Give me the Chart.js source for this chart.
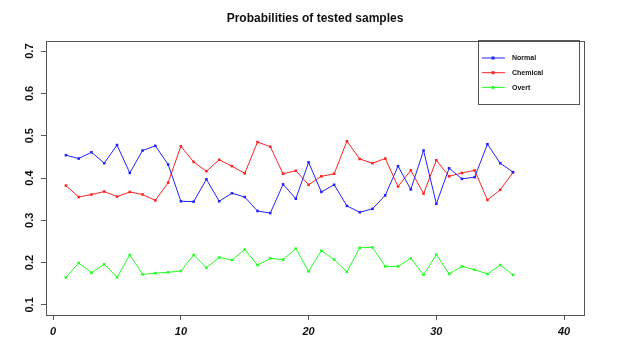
<!DOCTYPE html>
<html>
<head>
    <title>Probabilities of tested samples</title>
    <script src="https://cdn.jsdelivr.net/npm/chart.js@4/dist/chart.umd.min.js"></script>
    <style>
        body { margin: 0; background-color: #ffffff; }
        canvas { display: block; }
    </style>
</head>
<body>
    <canvas id="probChart" width="619" height="349"></canvas>
    <script>
        // sample index (x axis)
        const samples = [1, 2, 3, 4, 5, 6, 7, 8, 9, 10, 11, 12, 13, 14, 15, 16, 17, 18,
                         19, 20, 21, 22, 23, 24, 25, 26, 27, 28, 29, 30, 31, 32, 33, 34, 35, 36];

        const normal = [0.454, 0.446, 0.461, 0.435, 0.478, 0.412, 0.465, 0.476, 0.432, 0.345, 0.344, 0.397,
                        0.345, 0.364, 0.355, 0.322, 0.317, 0.385, 0.351, 0.437, 0.367, 0.384, 0.334, 0.319,
                        0.327, 0.359, 0.428, 0.373, 0.465, 0.339, 0.423, 0.398, 0.402, 0.480, 0.435, 0.414];

        const chemical = [0.382, 0.355, 0.361, 0.368, 0.356, 0.367, 0.361, 0.347, 0.389, 0.475, 0.438, 0.416,
                          0.443, 0.428, 0.411, 0.485, 0.474, 0.410, 0.417, 0.384, 0.404, 0.410, 0.487, 0.445,
                          0.435, 0.446, 0.380, 0.418, 0.363, 0.442, 0.404, 0.412, 0.418, 0.348, 0.372, 0.413];

        const overt = [0.165, 0.199, 0.176, 0.196, 0.165, 0.218, 0.172, 0.175, 0.177, 0.180, 0.218, 0.188,
                       0.212, 0.206, 0.231, 0.194, 0.210, 0.207, 0.233, 0.179, 0.228, 0.207, 0.178, 0.235,
                       0.236, 0.191, 0.191, 0.210, 0.171, 0.219, 0.173, 0.191, 0.183, 0.173, 0.194, 0.171];

        const xTicks = [0, 10, 20, 30, 40];
        const yTicks = [0.1, 0.2, 0.3, 0.4, 0.5, 0.6, 0.7];
        const seriesNames = ['Normal', 'Chemical', 'Overt'];
        const seriesColors = ['#2222ff', '#ff2222', '#22ff22'];

        const allSeries = [normal, chemical, overt];
        const fontFam = '"Liberation Sans", Arial, sans-serif';

        // box, rotated y labels, title and legend, R style
        const rStyle = {
            id: 'rStyle',
            afterDraw(chart) {
                const ctx = chart.ctx;
                const a = chart.chartArea;
                const ys = chart.scales.y;
                ctx.save();
                ctx.strokeStyle = '#555555';
                ctx.lineWidth = 1;
                ctx.strokeRect(Math.round(a.left) + 0.5, Math.round(a.top) + 0.5,
                               Math.round(a.right - a.left), Math.round(a.bottom - a.top));

                // y labels
                ctx.fillStyle = '#111111';
                ctx.font = 'bold 11px ' + fontFam;
                ctx.textAlign = 'center';
                ctx.textBaseline = 'middle';
                yTicks.forEach(v => {
                    ctx.save();
                    ctx.translate(30, ys.getPixelForValue(v));
                    ctx.rotate(-Math.PI / 2);
                    ctx.fillText(v.toFixed(1), 0, 0);
                    ctx.restore();
                });

                // title
                ctx.font = 'bold 12px ' + fontFam;
                ctx.fillText('Probabilities of tested samples', (a.left + a.right) / 2, 19);

                // legend
                ctx.strokeStyle = '#555555';
                ctx.strokeRect(478.5, 40.5, 101, 64);
                ctx.font = 'bold 7px ' + fontFam;
                ctx.textAlign = 'left';
                seriesNames.forEach((name, i) => {
                    const y = 58 + i * 14.7;
                    ctx.strokeStyle = seriesColors[i];
                    ctx.beginPath();
                    ctx.moveTo(482, y);
                    ctx.lineTo(505, y);
                    ctx.stroke();
                    ctx.fillStyle = seriesColors[i];
                    ctx.fillRect(491.5, y - 1.5, 3, 3);
                    ctx.fillStyle = '#111111';
                    ctx.fillText(name, 512, y + 0.5);
                });
                ctx.restore();
            }
        };

        new Chart(document.getElementById('probChart'), {
            type: 'line',
            data: {
                datasets: allSeries.map((vals, i) => ({
                    label: seriesNames[i],
                    data: samples.map((s, j) => ({ x: s, y: vals[j] })),
                    borderColor: seriesColors[i],
                    backgroundColor: seriesColors[i],
                    borderWidth: 1,
                    pointStyle: 'rect',
                    pointRadius: 1.8,
                    pointBorderWidth: 0,
                    tension: 0
                }))
            },
            options: {
                responsive: false,
                animation: false,
                layout: { padding: { top: 41, right: 35, left: 0, bottom: 0 } },
                plugins: {
                    legend: { display: false },
                    title: { display: false },
                    tooltip: { enabled: false }
                },
                scales: {
                    x: {
                        type: 'linear',
                        min: -0.56,
                        max: 41.56,
                        afterBuildTicks: s => { s.ticks = xTicks.map(v => ({ value: v })); },
                        afterFit: s => { s.height = 34; },
                        border: { display: false },
                        grid: { drawOnChartArea: false, drawTicks: true, tickLength: 5, color: '#555555' },
                        ticks: {
                            color: '#111111',
                            padding: 5,
                            maxRotation: 0,
                            font: { family: fontFam, size: 11, weight: 'bold', style: 'italic' }
                        }
                    },
                    y: {
                        type: 'linear',
                        min: 0.076,
                        max: 0.724,
                        afterBuildTicks: s => { s.ticks = yTicks.map(v => ({ value: v })); },
                        afterFit: s => { s.width = 46; },
                        border: { display: false },
                        grid: { drawOnChartArea: false, drawTicks: true, tickLength: 5, color: '#555555' },
                        ticks: { display: false }
                    }
                }
            },
            plugins: [rStyle]
        });
    </script>
</body>
</html>
